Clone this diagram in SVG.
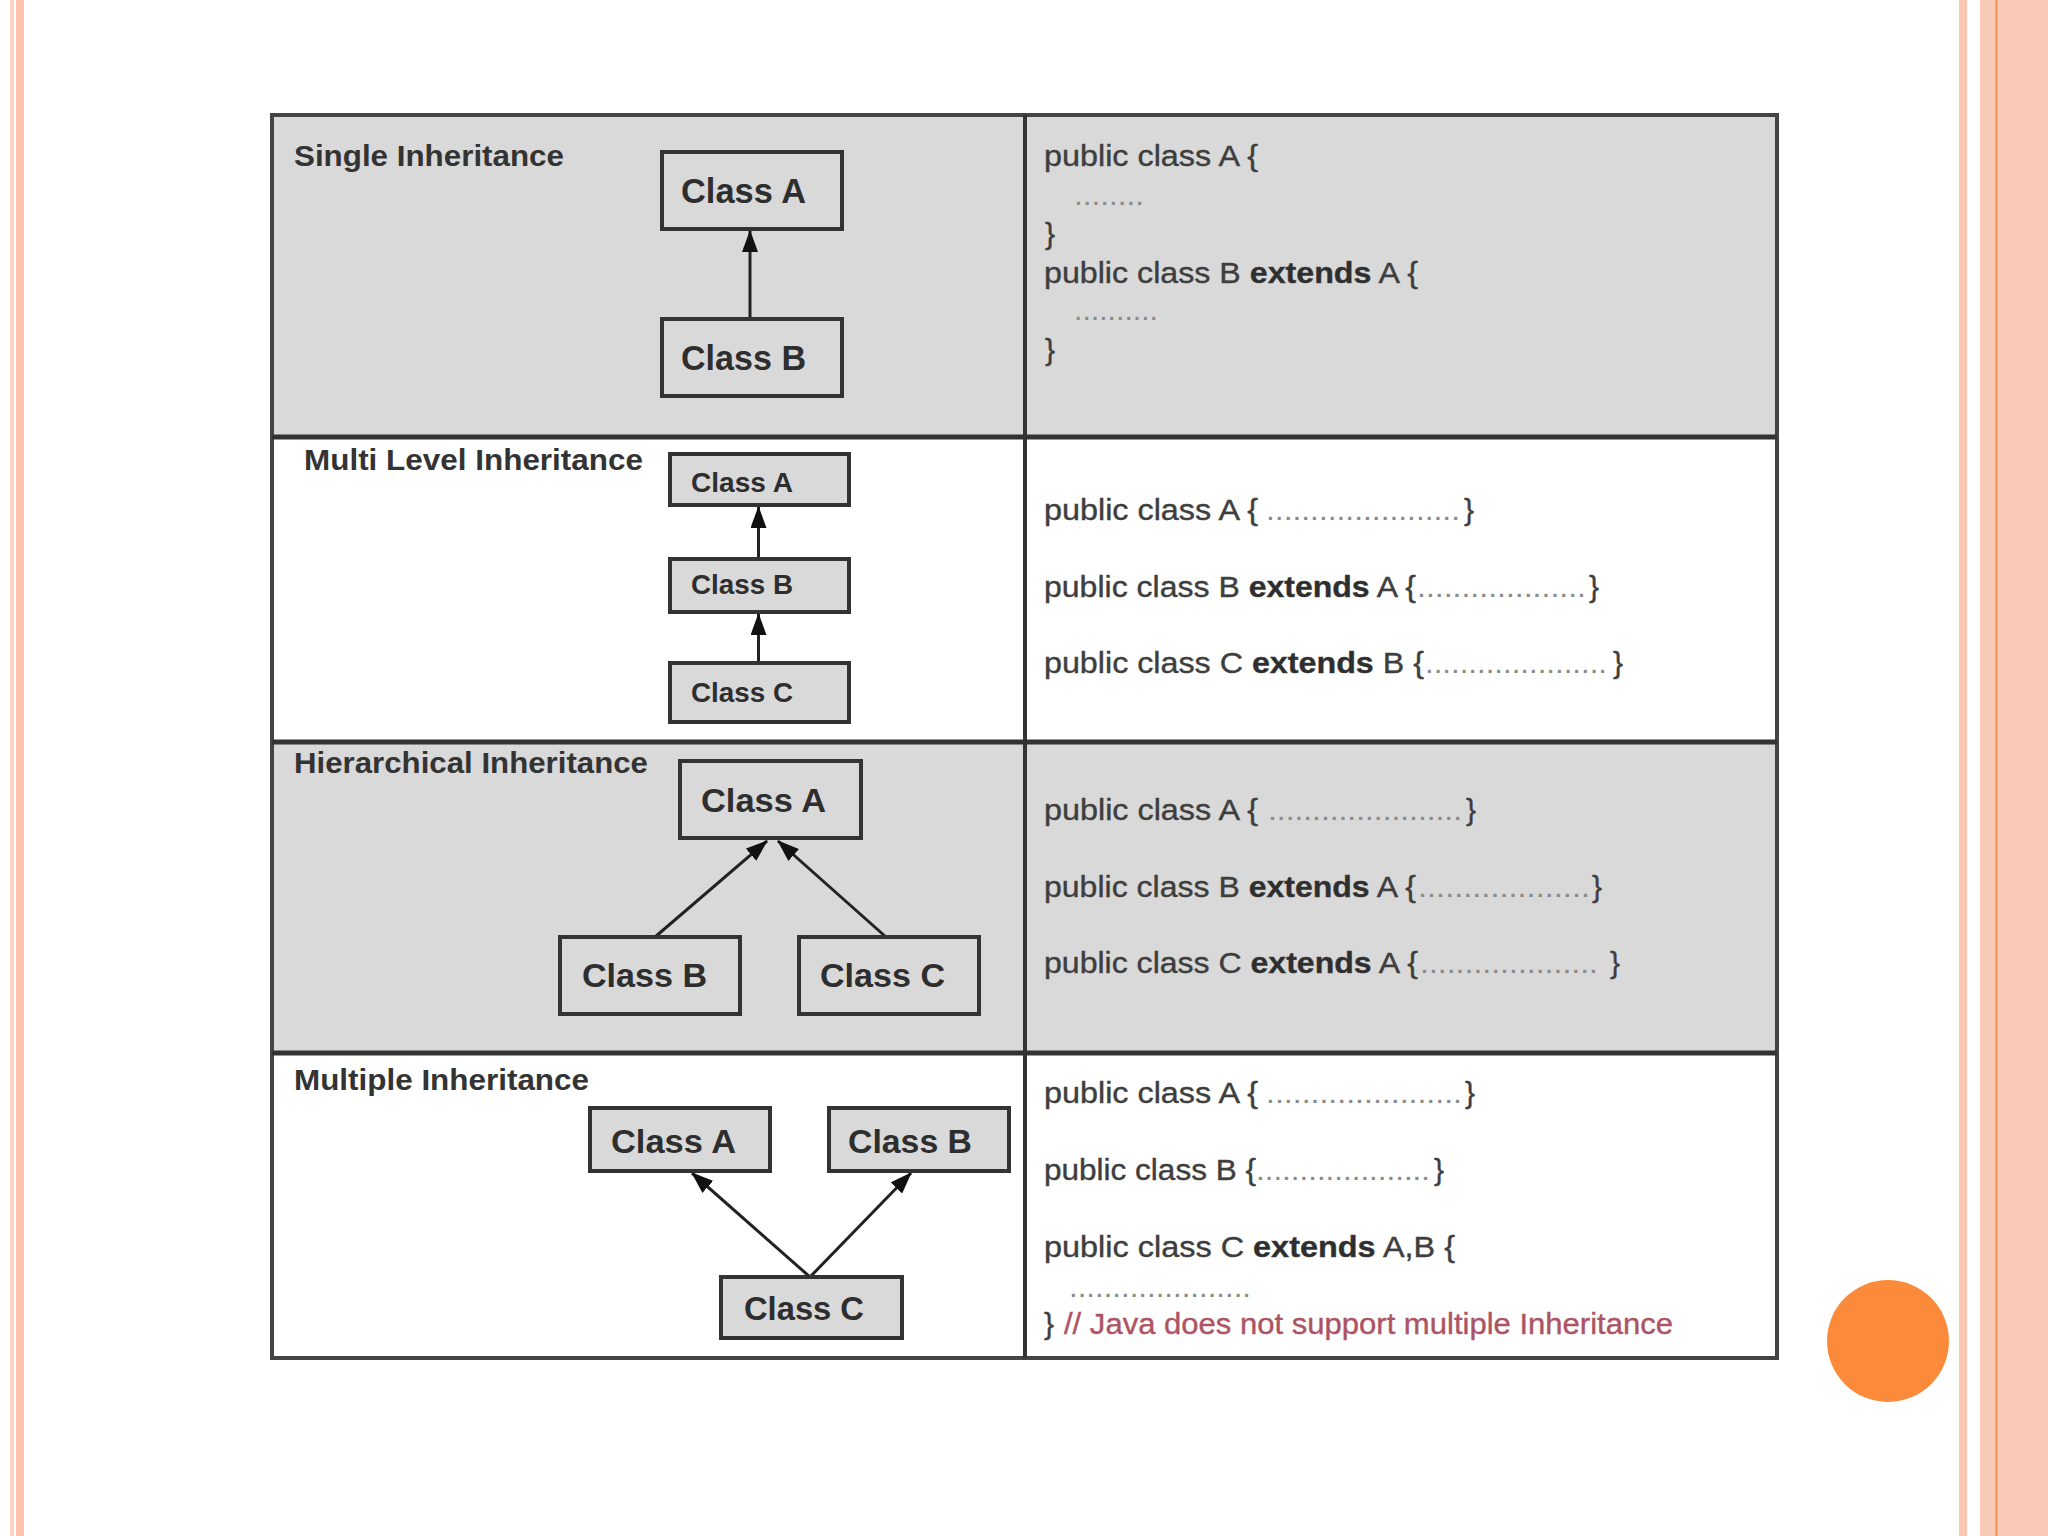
<svg xmlns="http://www.w3.org/2000/svg" width="2048" height="1536" viewBox="0 0 2048 1536">
<style>
.title{font-family:"Liberation Sans",Arial,sans-serif;font-weight:bold;font-size:29px;fill:#333}
.code{font-family:"Liberation Sans",Arial,sans-serif;font-size:30px;fill:#3e3e3e;stroke:#3e3e3e;stroke-width:0.4}
.kw{font-weight:bold;fill:#2e2e2e}
.dots{font-family:"Liberation Sans",Arial,sans-serif;font-size:30px;fill:#8a8a8a}
.cmt{font-family:"Liberation Sans",Arial,sans-serif;font-size:30px;fill:#ad5464;stroke:#ad5464;stroke-width:0.4}
.box{fill:#d9d9d9;stroke:#333;stroke-width:4}
.lbl{font-family:"Liberation Sans",Arial,sans-serif;font-weight:bold;fill:#2e2e2e}
.conn{stroke:#222;stroke-width:3;fill:none;marker-end:url(#ah)}
</style>
<defs>
<marker id="ah" markerUnits="userSpaceOnUse" markerWidth="22" markerHeight="16" viewBox="0 0 22 16" refX="21" refY="8" orient="auto">
<path d="M0,0 L22,8 L0,16 z" fill="#111"/>
</marker>
</defs>
<rect x="0" y="0" width="2048" height="1536" fill="#fff"/>
<g id="decor">
<rect x="10" y="0" width="4" height="1536" fill="#fcd3c3"/>
<rect x="16" y="0" width="8" height="1536" fill="#fcc2ae"/>
<rect x="1959" y="0" width="8" height="1536" fill="#fbc5b1"/>
<rect x="1980" y="0" width="68" height="1536" fill="#f9cbb7"/>
<rect x="1995.5" y="0" width="1.8" height="1536" fill="#f5894a"/>
<circle cx="1888" cy="1341" r="61" fill="#fb8a3b"/>
</g>
<g id="table">
<rect x="272" y="115" width="1505" height="322" fill="#d9d9d9"/>
<rect x="272" y="437" width="1505" height="305" fill="#fff"/>
<rect x="272" y="742" width="1505" height="311" fill="#d9d9d9"/>
<rect x="272" y="1053" width="1505" height="305" fill="#fff"/>
<rect x="272" y="115" width="1505" height="1243" fill="none" stroke="#444" stroke-width="4"/>
<line x1="272" y1="437" x2="1777" y2="437" stroke="#333" stroke-width="5"/>
<line x1="272" y1="742" x2="1777" y2="742" stroke="#333" stroke-width="5"/>
<line x1="272" y1="1053" x2="1777" y2="1053" stroke="#333" stroke-width="5"/>
<line x1="1025" y1="115" x2="1025" y2="1358" stroke="#333" stroke-width="4"/>
</g>
<g id="titles">
<text class="title" x="294" y="166" textLength="270" lengthAdjust="spacingAndGlyphs">Single Inheritance</text>
<text class="title" x="304" y="470" textLength="339" lengthAdjust="spacingAndGlyphs">Multi Level Inheritance</text>
<text class="title" x="294" y="773" textLength="354" lengthAdjust="spacingAndGlyphs">Hierarchical Inheritance</text>
<text class="title" x="294" y="1090" textLength="295" lengthAdjust="spacingAndGlyphs">Multiple Inheritance</text>
</g>
<g id="connectors">
<line class="conn" x1="750" y1="319" x2="750" y2="231"/>
<line class="conn" x1="758.5" y1="559" x2="758.5" y2="507"/>
<line class="conn" x1="758.5" y1="663" x2="758.5" y2="614"/>
<line class="conn" x1="655" y1="937" x2="767" y2="841"/>
<line class="conn" x1="886" y1="937" x2="778" y2="841"/>
<line class="conn" x1="810" y1="1277" x2="692" y2="1173"/>
<line class="conn" x1="810" y1="1277" x2="911" y2="1173"/>
</g>
<g id="s1-classA"><rect class="box" x="662" y="152" width="180" height="77"/><text class="lbl" x="681" y="203" font-size="35" textLength="125" lengthAdjust="spacingAndGlyphs">Class A</text></g>
<g id="s1-classB"><rect class="box" x="662" y="319" width="180" height="77"/><text class="lbl" x="681" y="370" font-size="35" textLength="125" lengthAdjust="spacingAndGlyphs">Class B</text></g>
<g id="m1-classA"><rect class="box" x="670" y="454" width="179" height="51"/><text class="lbl" x="691" y="492" font-size="28" textLength="102" lengthAdjust="spacingAndGlyphs">Class A</text></g>
<g id="m1-classB"><rect class="box" x="670" y="559" width="179" height="53"/><text class="lbl" x="691" y="594" font-size="28" textLength="102" lengthAdjust="spacingAndGlyphs">Class B</text></g>
<g id="m1-classC"><rect class="box" x="670" y="663" width="179" height="59"/><text class="lbl" x="691" y="702" font-size="28" textLength="102" lengthAdjust="spacingAndGlyphs">Class C</text></g>
<g id="h-classA"><rect class="box" x="680" y="761" width="181" height="77"/><text class="lbl" x="701" y="812" font-size="34" textLength="125" lengthAdjust="spacingAndGlyphs">Class A</text></g>
<g id="h-classB"><rect class="box" x="560" y="937" width="180" height="77"/><text class="lbl" x="582" y="987" font-size="34" textLength="125" lengthAdjust="spacingAndGlyphs">Class B</text></g>
<g id="h-classC"><rect class="box" x="799" y="937" width="180" height="77"/><text class="lbl" x="820" y="987" font-size="34" textLength="125" lengthAdjust="spacingAndGlyphs">Class C</text></g>
<g id="mu-classA"><rect class="box" x="590" y="1108" width="180" height="63"/><text class="lbl" x="611" y="1153" font-size="34" textLength="125" lengthAdjust="spacingAndGlyphs">Class A</text></g>
<g id="mu-classB"><rect class="box" x="829" y="1108" width="180" height="63"/><text class="lbl" x="848" y="1153" font-size="34" textLength="124" lengthAdjust="spacingAndGlyphs">Class B</text></g>
<g id="mu-classC"><rect class="box" x="721" y="1277" width="181" height="61"/><text class="lbl" x="744" y="1320" font-size="33" textLength="120" lengthAdjust="spacingAndGlyphs">Class C</text></g>
<g id="code1">
<text class="code" x="1044" y="166" textLength="214" lengthAdjust="spacingAndGlyphs">public class A {</text>
<text class="dots" x="1074" y="205" textLength="70" lengthAdjust="spacingAndGlyphs">........</text>
<text class="code" x="1045" y="244">}</text>
<text class="code" x="1044" y="283" textLength="374" lengthAdjust="spacingAndGlyphs">public class B <tspan class="kw">extends</tspan> A {</text>
<text class="dots" x="1074" y="320" textLength="84" lengthAdjust="spacingAndGlyphs">..........</text>
<text class="code" x="1045" y="360">}</text>
</g>
<g id="code2">
<text class="code" x="1044" y="520" textLength="214" lengthAdjust="spacingAndGlyphs">public class A {</text>
<text class="dots" x="1266" y="520" textLength="194" lengthAdjust="spacingAndGlyphs">......................</text>
<text class="code" x="1464" y="520">}</text>
<text class="code" x="1044" y="597" textLength="372" lengthAdjust="spacingAndGlyphs">public class B <tspan class="kw">extends</tspan> A {</text>
<text class="dots" x="1417" y="597" textLength="169" lengthAdjust="spacingAndGlyphs">...................</text>
<text class="code" x="1589" y="597">}</text>
<text class="code" x="1044" y="673" textLength="380" lengthAdjust="spacingAndGlyphs">public class C <tspan class="kw">extends</tspan>  B {</text>
<text class="dots" x="1425" y="673" textLength="182" lengthAdjust="spacingAndGlyphs">.....................</text>
<text class="code" x="1613" y="673">}</text>
</g>
<g id="code3">
<text class="code" x="1044" y="820" textLength="214" lengthAdjust="spacingAndGlyphs">public class A {</text>
<text class="dots" x="1268" y="820" textLength="194" lengthAdjust="spacingAndGlyphs">......................</text>
<text class="code" x="1466" y="820">}</text>
<text class="code" x="1044" y="897" textLength="372" lengthAdjust="spacingAndGlyphs">public class B <tspan class="kw">extends</tspan> A {</text>
<text class="dots" x="1418" y="897" textLength="172" lengthAdjust="spacingAndGlyphs">...................</text>
<text class="code" x="1592" y="897">}</text>
<text class="code" x="1044" y="973" textLength="374" lengthAdjust="spacingAndGlyphs">public class C <tspan class="kw">extends</tspan> A {</text>
<text class="dots" x="1420" y="973" textLength="178" lengthAdjust="spacingAndGlyphs">....................</text>
<text class="code" x="1610" y="973">}</text>
</g>
<g id="code4">
<text class="code" x="1044" y="1103" textLength="214" lengthAdjust="spacingAndGlyphs">public class A {</text>
<text class="dots" x="1266" y="1103" textLength="196" lengthAdjust="spacingAndGlyphs">......................</text>
<text class="code" x="1465" y="1103">}</text>
<text class="code" x="1044" y="1180" textLength="212" lengthAdjust="spacingAndGlyphs">public class B {</text>
<text class="dots" x="1256" y="1180" textLength="174" lengthAdjust="spacingAndGlyphs">....................</text>
<text class="code" x="1434" y="1180">}</text>
<text class="code" x="1044" y="1257" textLength="411" lengthAdjust="spacingAndGlyphs">public class C <tspan class="kw">extends</tspan>  A,B {</text>
<text class="dots" x="1069" y="1297" textLength="182" lengthAdjust="spacingAndGlyphs">.....................</text>
<text class="code" x="1044" y="1334">}</text>
<text class="cmt" x="1064" y="1334" textLength="609" lengthAdjust="spacingAndGlyphs">// Java does not support multiple Inheritance</text>
</g>
</svg>
